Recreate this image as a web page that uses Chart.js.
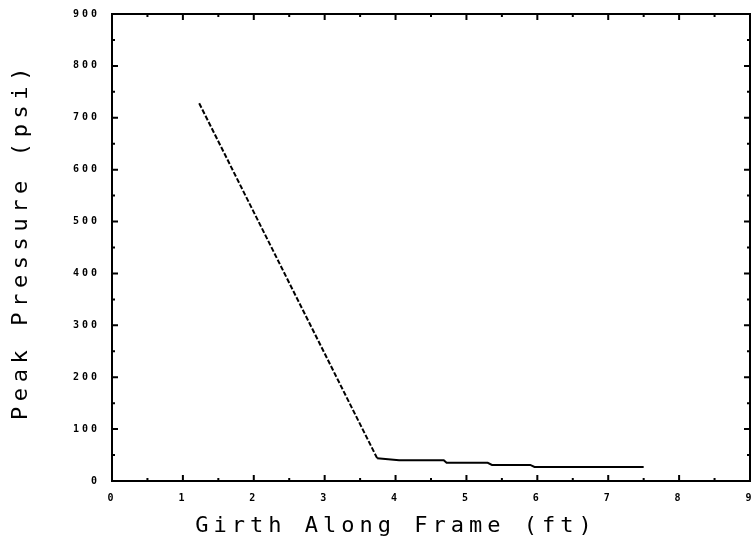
<!DOCTYPE html>
<html>
<head>
<meta charset="utf-8">
<script src="https://cdn.jsdelivr.net/npm/chart.js@4"></script>
<style>
    html, body { margin: 0; padding: 0; background: #fff; }
    #wrap { width: 752px; height: 542px; }
</style>
</head>
<body>
<div id="wrap"><canvas id="peakChart" width="752" height="542"></canvas></div>
<script>
// Values
const girth = [1.23, 3.74, 4.05, 4.68, 4.72, 5.3, 5.36, 5.9, 5.96, 7.5];
const pressure = [728, 44, 40, 40, 35, 35, 31, 31, 27, 27];
const xTitle = 'Girth Along Frame (ft)';
const yTitle = 'Peak Pressure (psi)';

const points = girth.map((g, i) => ({ x: g, y: pressure[i] }));

// Frame with inward ticks on all four sides + the spaced axis titles
const framePlugin = {
    id: 'frame',
    beforeDraw(chart) {
        chart.ctx.letterSpacing = '3px';
    },
    afterDraw(chart) {
        const ctx = chart.ctx;
        const a = chart.chartArea;
        const xs = chart.scales.x;
        const ys = chart.scales.y;
        ctx.save();
        ctx.strokeStyle = '#000';
        ctx.lineWidth = 2;
        ctx.strokeRect(a.left, a.top, a.right - a.left, a.bottom - a.top);

        ctx.beginPath();
        for (let v = 0; v <= 9; v += 0.5) {
            const px = xs.getPixelForValue(v);
            const len = v % 1 === 0 ? 6 : 3;
            ctx.moveTo(px, a.bottom); ctx.lineTo(px, a.bottom - len);
            ctx.moveTo(px, a.top); ctx.lineTo(px, a.top + len);
        }
        for (let v = 0; v <= 900; v += 50) {
            const py = ys.getPixelForValue(v);
            const len = v % 100 === 0 ? 6 : 3;
            ctx.moveTo(a.left, py); ctx.lineTo(a.left + len, py);
            ctx.moveTo(a.right, py); ctx.lineTo(a.right - len, py);
        }
        ctx.stroke();

        // axis titles
        ctx.fillStyle = '#000';
        ctx.font = '22px "DejaVu Sans Mono"';
        ctx.textAlign = 'center';
        ctx.textBaseline = 'alphabetic';
        ctx.letterSpacing = '5px';
        ctx.fillText(xTitle, 396, 532);

        ctx.translate(27, 241);
        ctx.rotate(-Math.PI / 2);
        ctx.letterSpacing = '5.6px';
        ctx.fillText(yTitle, 0, 0);
        ctx.restore();
    }
};

const tickFont = { family: 'DejaVu Sans Mono', size: 10, weight: 'bold' };

const ctx = document.getElementById('peakChart').getContext('2d');
const mainChart = new Chart(ctx, {
    type: 'line',
    data: {
        datasets: [{
            data: points,
            borderColor: '#000',
            borderWidth: 2,
            pointRadius: 0,
            tension: 0,
            segment: {
                // the steep drop is drawn with a fine dashed line
                borderDash: c => c.p0DataIndex === 0 ? [5, 2] : undefined
            }
        }]
    },
    options: {
        responsive: false,
        animation: false,
        layout: { padding: { top: 14, right: 2, left: 0, bottom: 0 } },
        plugins: {
            legend: { display: false },
            tooltip: { enabled: false }
        },
        scales: {
            x: {
                type: 'linear',
                min: 0,
                max: 9,
                grid: { display: false, drawTicks: false },
                border: { display: false },
                ticks: { stepSize: 1, padding: 11, color: '#000', font: tickFont },
                afterFit: s => {
                    s.height = 61;
                    s.paddingLeft = 0;
                    s.paddingRight = 0;
                }
            },
            y: {
                min: 0,
                max: 900,
                grid: { display: false, drawTicks: false },
                border: { display: false },
                ticks: { stepSize: 100, padding: 12, color: '#000', font: tickFont },
                afterFit: s => {
                    s.width = 112;
                    s.paddingTop = 0;
                    s.paddingBottom = 0;
                }
            }
        }
    },
    plugins: [framePlugin]
});
</script>
</body>
</html>
